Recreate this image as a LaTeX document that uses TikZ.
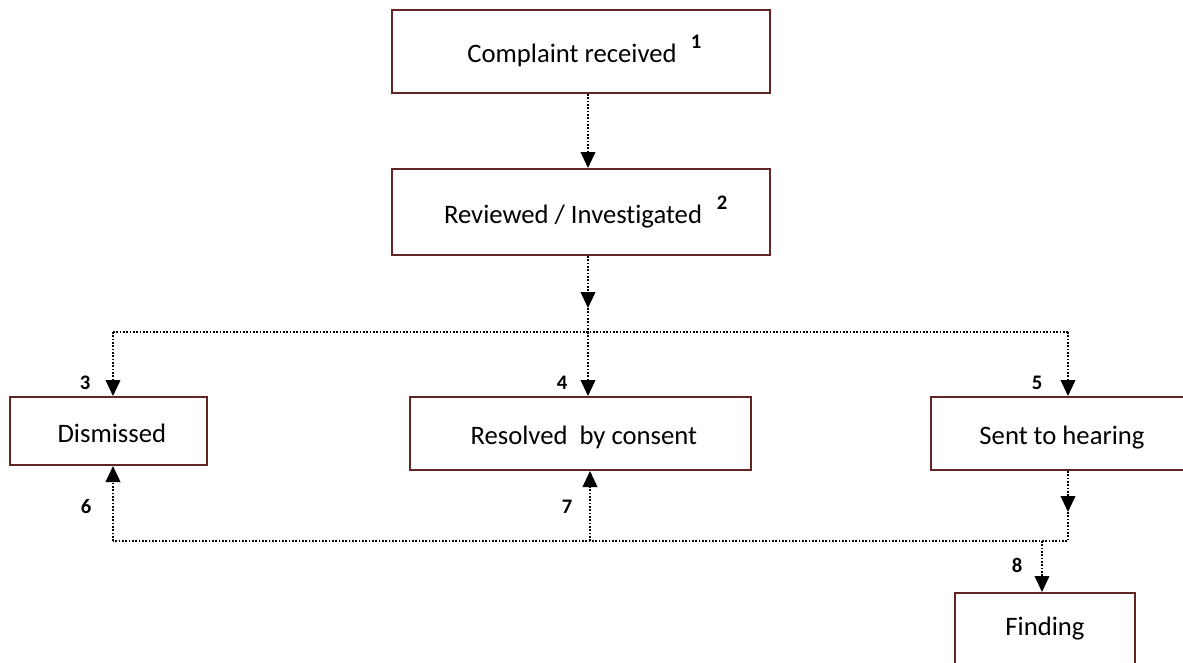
\documentclass[tikz,border=0pt]{standalone}
\usepackage{fontspec}
\setmainfont{Carlito}[Ligatures=NoCommon]
\usepackage{xcolor}
\usepackage{tikz}
\usetikzlibrary{arrows.meta,calc}

\definecolor{boxred}{RGB}{99,37,35}

\tikzset{
  stagebox/.style={draw=boxred, line width=1.5pt, fill=white, inner sep=0pt, text height=17pt, text depth=0pt, font=\fontsize{20}{24}\selectfont},
  dotline/.style={line width=1.3pt, dash pattern=on 1.2pt off 1.3pt},
  flow/.style={dotline, -{Triangle[length=12pt,width=11pt]}},
  stepno/.style={inner sep=0.75pt, font=\bfseries\fontsize{15.5}{18}\selectfont}
}

\begin{document}
\begin{tikzpicture}[x=0.75pt,y=0.75pt,yscale=-1,xscale=1]
      \useasboundingbox (0,0) rectangle (1183,662);
      \clip (0,0) rectangle (1183,662);

      % Boxes
      \node [stagebox, minimum width=283.5pt, minimum height=62.25pt] (complaint) at (581,51.5) {Complaint received\hspace*{13.5pt}};
      \node [stagebox, minimum width=283.5pt, minimum height=64.5pt] (reviewed) at (581,212) {Reviewed / Investigated\hspace*{12pt}};
      \node [stagebox, minimum width=147.75pt, minimum height=51pt] (dismissed) at (108.5,431) {\hspace*{5pt}Dismissed};
      \node [stagebox, minimum width=255.75pt, minimum height=54.75pt] (resolved) at (580.5,433.5) {\hspace*{5pt}Resolved\ \ by consent};
      \node [stagebox, minimum width=196.5pt, minimum height=54.75pt] (hearing) at (1062,433.5) {Sent to hearing};
      \node [stagebox, minimum width=135pt, minimum height=65.25pt, text depth=19.25pt] (finding) at (1045,636.5) {Finding};

      % Corners of the dotted lines
      \coordinate (split) at (588,332);
      \coordinate (midtip) at (588,308);
      \coordinate (upL) at (113,332);
      \coordinate (upR) at (1068,332);
      \coordinate (hearingtip) at (1068,512);
      \coordinate (loR) at (1068,541);
      \coordinate (loL) at (113,541);
      \coordinate (loM) at (590,541);
      \coordinate (loF) at (1042,541);

      % Connectors
      \draw [flow] (complaint.south -| split) -- (reviewed.north -| split);
      \draw [flow] (reviewed.south -| split) -- (midtip);
      \draw [dotline] (midtip) -- (split);
      \draw [dotline] (upL) -- (upR);
      \draw [flow] (upL) -- (upL |- dismissed.north);
      \draw [flow] (split) -- (split |- resolved.north);
      \draw [flow] (upR) -- (upR |- hearing.north);
      \draw [flow] (hearing.south -| upR) -- (hearingtip);
      \draw [dotline] (hearingtip) -- (loR) -- (loL);
      \draw [flow] (loL) -- (loL |- dismissed.south);
      \draw [flow] (loM) -- (loM |- resolved.south);
      \draw [flow] (loF) -- (loF |- finding.north);

      % Text Node
      \node [stepno] (n1) at (696,42) {1};
      \node [stepno] (n2) at (722,203) {2};
      \node [stepno] (n3) at (85,383) {3};
      \node [stepno] (n4) at (562,383) {4};
      \node [stepno] (n5) at (1037,383) {5};
      \node [stepno] (n6) at (86,507) {6};
      \node [stepno] (n7) at (567,507) {7};
      \node [stepno] (n8) at (1017,565) {8};
    \end{tikzpicture}
\end{document}
